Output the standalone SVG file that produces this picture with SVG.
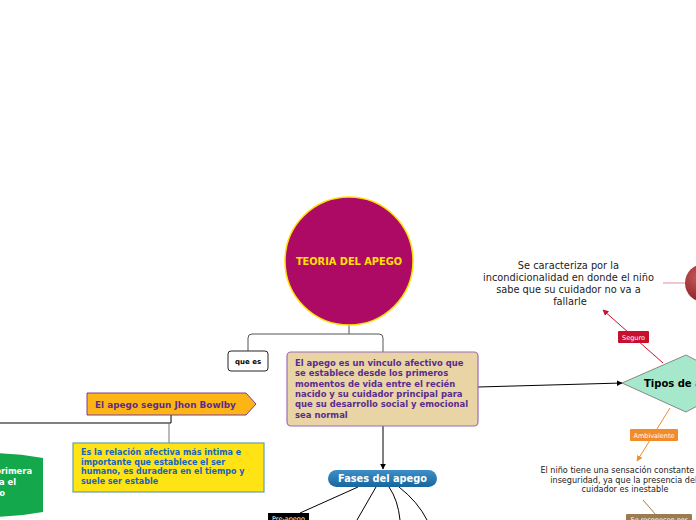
<svg xmlns="http://www.w3.org/2000/svg" width="696" height="520" viewBox="0 0 696 520">
<defs>
<style>
text{font-family:"DejaVu Sans","Liberation Sans",sans-serif}
.b{font-weight:bold}
.con{fill:none;stroke-width:1}
.lbl{fill:#fff;font-size:6.5px}
</style>
<marker id="ak" viewBox="0 0 10 10" refX="9" refY="5" markerWidth="6" markerHeight="6" orient="auto"><path d="M0,0L10,5L0,10z" fill="#000"/></marker>
<marker id="ar" viewBox="0 0 10 10" refX="9" refY="5" markerWidth="6" markerHeight="6" orient="auto"><path d="M0,0L10,5L0,10z" fill="#C8102E"/></marker>
<marker id="ao" viewBox="0 0 10 10" refX="9" refY="5" markerWidth="6" markerHeight="6" orient="auto"><path d="M0,0L10,5L0,10z" fill="#F28C28"/></marker>
<linearGradient id="gb" x1="0" y1="0" x2="0" y2="1"><stop offset="0" stop-color="#3E8FC7"/><stop offset="1" stop-color="#17679E"/></linearGradient>
<radialGradient id="gr" cx="0.35" cy="0.35" r="0.7"><stop offset="0" stop-color="#C45A5A"/><stop offset="1" stop-color="#8A1C22"/></radialGradient>
</defs>
<rect width="696" height="520" fill="#fff"/>
<g id="connectors">
<path class="con" d="M349,325V334H252Q248,334 248,338V351M349,334H379Q383,334 383,338V352" stroke="#555"/>
<path class="con" d="M478,387L622,383" stroke="#000" marker-end="url(#ak)"/>
<path class="con" d="M383,426V469" stroke="#000" marker-end="url(#ak)"/>
<path class="con" d="M663,363L603,310" stroke="#C8102E" marker-end="url(#ar)"/>
<path class="con" d="M663,283H686" stroke="#E88A9A"/>
<path class="con" d="M670,408L637,461" stroke="#F28C28" marker-end="url(#ao)"/>
<path class="con" d="M643,500L656,515" stroke="#9C7B4F" stroke-width="1.5"/>
<path class="con" d="M0,423H171V415" stroke="#000"/>
<path class="con" d="M169,423V443" stroke="#777" stroke-width="1.5"/>
<path class="con" d="M358,487L300,513" stroke="#000"/>
<path class="con" d="M376,487L357,520" stroke="#000"/>
<path class="con" d="M389,487Q398,500 400,520" stroke="#000"/>
<path class="con" d="M399,487Q418,502 427,520" stroke="#000"/>
</g>
<g id="n-teoria">
<circle cx="349" cy="261" r="64" fill="#AD0A66" stroke="#FFE000" stroke-width="1.5"/>
<text x="349" y="265" text-anchor="middle" class="b" font-size="9.8" fill="#FFE000">TEORIA DEL APEGO</text>
</g>
<g id="n-quees">
<rect x="228" y="351" width="40" height="20" rx="3" fill="#fff" stroke="#222"/>
<text x="248" y="364" text-anchor="middle" class="b" font-size="7" fill="#000">que es</text>
</g>
<g id="n-def">
<rect x="287" y="352" width="191" height="74" rx="4" fill="#E9D4A6" stroke="#9B6BB5" stroke-width="1.2"/>
<text class="b" font-size="8.45" fill="#5B2C8F">
<tspan x="295" y="366">El apego es un vinculo afectivo que</tspan>
<tspan x="295" y="376.3">se establece desde los primeros</tspan>
<tspan x="295" y="386.6">momentos de vida entre el recién</tspan>
<tspan x="295" y="396.9">nacido y su cuidador principal para</tspan>
<tspan x="295" y="407.2">que su desarrollo social y emocional</tspan>
<tspan x="295" y="417.5">sea normal</tspan>
</text>
</g>
<g id="n-tipos">
<path d="M622,383L686,355L740,383L686,412Z" fill="#A6E8CB" stroke="#888"/>
<text x="644" y="387" class="b" font-size="10" fill="#000">Tipos de apego</text>
</g>
<g id="n-seguro-lbl">
<rect x="618" y="331" width="31" height="12" rx="1" fill="#C8102E"/>
<text x="633.5" y="339.5" text-anchor="middle" class="lbl">Seguro</text>
</g>
<g id="n-seguro-txt">
<text font-size="9.8" fill="#222" text-anchor="middle" font-family="Liberation Sans,sans-serif">
<tspan x="570" y="269">Se caracteriza por la</tspan>
<tspan x="570" y="281">incondicionalidad en donde el niño</tspan>
<tspan x="570" y="293">sabe que su cuidador no va a</tspan>
<tspan x="570" y="305">fallarle</tspan>
</text>
</g>
<g id="n-red">
<circle cx="704" cy="283" r="19" fill="url(#gr)"/>
</g>
<g id="n-amb-lbl">
<rect x="630" y="429" width="48" height="12" rx="1" fill="#F28C28"/>
<text x="654" y="437.5" text-anchor="middle" class="lbl">Ambivalente</text>
</g>
<g id="n-amb-txt">
<text font-size="8.1" fill="#222" text-anchor="middle">
<tspan x="625" y="473">El niño tiene una sensación constante de</tspan>
<tspan x="625" y="482.5">inseguridad, ya que la presencia del</tspan>
<tspan x="625" y="492">cuidador es inestable</tspan>
</text>
</g>
<g id="n-reconocen">
<rect x="626" y="514" width="66" height="12" rx="1" fill="#9C7B4F"/>
<text x="659" y="522" text-anchor="middle" class="lbl">Se reconocen por</text>
</g>
<g id="n-bowlby">
<path d="M87,393H246L256,404L246,415H87Z" fill="#FDB515" stroke="#7A3C9A"/>
<text x="95" y="408" class="b" font-size="8.9" fill="#5B2C8F">El apego segun Jhon Bowlby</text>
</g>
<g id="n-relacion">
<rect x="73" y="443" width="191" height="49" fill="#FFE314" stroke="#6B9E9E" stroke-width="1.2"/>
<text class="b" font-size="8" fill="#1565C0">
<tspan x="81" y="455">Es la relación afectiva más intima e</tspan>
<tspan x="81" y="464.5">importante que establece el ser</tspan>
<tspan x="81" y="474">humano, es duradera en el tiempo y</tspan>
<tspan x="81" y="483.5">suele ser estable</tspan>
</text>
</g>
<g id="n-green">
<path d="M-60,458Q-10,448 43,458V512Q-10,522 -60,512Z" fill="#12A84B"/>
<text class="b" font-size="8.4" fill="#fff" text-anchor="end">
<tspan x="35" y="474">la primera</tspan>
<tspan x="19" y="485">para el</tspan>
<tspan x="5" y="496">niño</tspan>
</text>
</g>
<g id="n-fases">
<rect x="328" y="470" width="109" height="17" rx="8.5" fill="url(#gb)"/>
<text x="382.5" y="482" text-anchor="middle" class="b" font-size="9.8" fill="#fff">Fases del apego</text>
</g>
<g id="n-preapego">
<rect x="268" y="513" width="41" height="12" fill="#000"/>
<text x="288.5" y="520.5" text-anchor="middle" class="lbl">Pre-apego</text>
</g>
</svg>
